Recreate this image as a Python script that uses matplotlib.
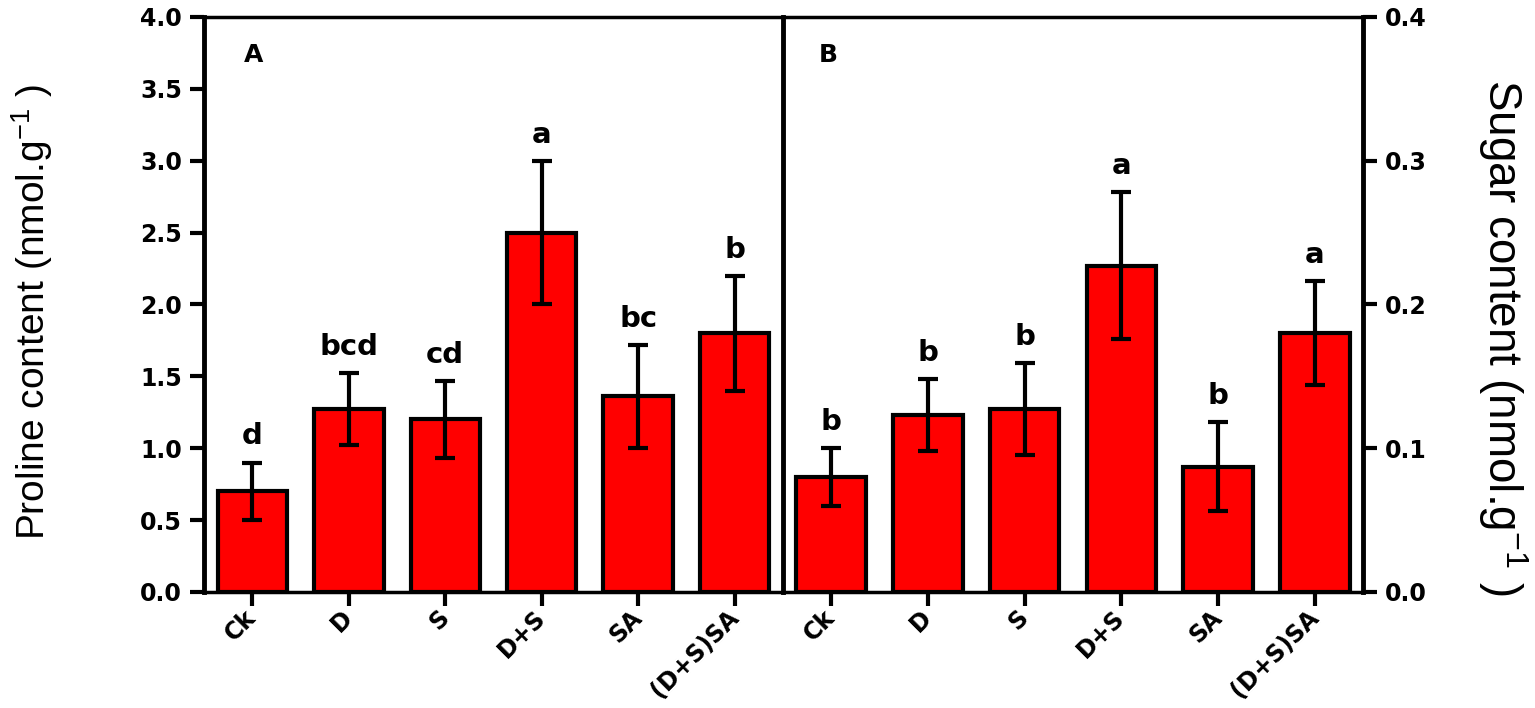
import matplotlib
matplotlib.use("Agg")
import matplotlib.pyplot as plt
import numpy as np

# Daten
treatments = ["Ck", "D", "S", "D+S", "SA", "(D+S)SA"]

proline_mean = [0.70, 1.27, 1.20, 2.50, 1.36, 1.80]
proline_err = [0.20, 0.25, 0.27, 0.50, 0.36, 0.40]
proline_letters = ["d", "bcd", "cd", "a", "bc", "b"]

sugar_mean = [0.080, 0.123, 0.127, 0.227, 0.087, 0.180]
sugar_err = [0.020, 0.025, 0.032, 0.051, 0.031, 0.036]
sugar_letters = ["b", "b", "b", "a", "b", "a"]

proline_ticks = [0.0, 0.5, 1.0, 1.5, 2.0, 2.5, 3.0, 3.5, 4.0]
sugar_ticks = [0.0, 0.1, 0.2, 0.3, 0.4]

plt.rcParams['mathtext.fontset'] = 'custom'
plt.rcParams['mathtext.rm'] = 'Liberation Sans'
plt.rcParams['mathtext.it'] = 'Liberation Sans:italic'
plt.rcParams['mathtext.bf'] = 'Liberation Sans:bold'

fig = plt.figure(figsize=(15.35, 7.08), dpi=100)
ax1 = fig.add_axes([0.133, 0.164, 0.377, 0.812])
ax2 = fig.add_axes([0.510, 0.164, 0.378, 0.812])


def draw_panel(ax, means, errs, letters):
    x = np.arange(len(treatments))
    ax.bar(x, means, width=0.72, color='#ff0000', edgecolor='black',
           linewidth=3, zorder=2)
    ax.errorbar(x, means, yerr=errs, fmt='none', ecolor='black',
                elinewidth=3, capsize=7, capthick=3, zorder=3)
    for xi, m, e, lab in zip(x, means, errs, letters):
        ax.annotate(lab, (xi, m + e), xytext=(0, 13), textcoords='offset points',
                    ha='center', va='baseline', fontsize=21, fontweight='bold')
    ax.set_xlim(-0.5, 5.5)
    ax.set_xticks(x)
    ax.set_xticklabels(treatments, rotation=45, ha='right', va='center',
                       rotation_mode='anchor', fontsize=17, fontweight='bold')
    ax.tick_params(axis='x', direction='out', length=10, width=3, pad=6)
    for s in ['top', 'bottom']:
        ax.spines[s].set_linewidth(2.5)


draw_panel(ax1, proline_mean, proline_err, proline_letters)
draw_panel(ax2, sugar_mean, sugar_err, sugar_letters)

# linke Achse
ax1.set_ylim(0, 4.0)
ax1.set_yticks(proline_ticks)
ax1.set_yticklabels([f"{t:.1f}" for t in proline_ticks], fontsize=17, fontweight='bold')
ax1.tick_params(axis='y', direction='out', length=10, width=3, pad=6)
ax1.spines['left'].set_linewidth(3.5)
ax1.spines['right'].set_visible(False)

# rechte Achse, die Trennlinie ist die linke Achse von B
ax2.set_ylim(0, 0.4)
ax2.yaxis.tick_right()
ax2.set_yticks(sugar_ticks)
ax2.set_yticklabels([f"{t:.1f}" for t in sugar_ticks], fontsize=17, fontweight='bold')
ax2.tick_params(axis='y', direction='out', length=10, width=3, pad=6)
ax2.spines['left'].set_linewidth(3.5)
ax2.spines['right'].set_linewidth(3.5)

ax1.text(0.085, 0.934, 'A', transform=ax1.transAxes, ha='center', va='center',
         fontsize=18, fontweight='bold')
ax2.text(0.079, 0.934, 'B', transform=ax2.transAxes, ha='center', va='center',
         fontsize=18, fontweight='bold')

fig.text(0.021, 0.559, r'Proline content (nmol.g$^{-1}$ )', rotation=90,
         family='Liberation Sans', fontsize=28, ha='center', va='center')
fig.text(0.979, 0.524, r'Sugar content (nmol.g$^{-1}$ )', rotation=270,
         family='Liberation Sans', fontsize=33, ha='center', va='center')

fig.savefig("out.png", dpi=100)
